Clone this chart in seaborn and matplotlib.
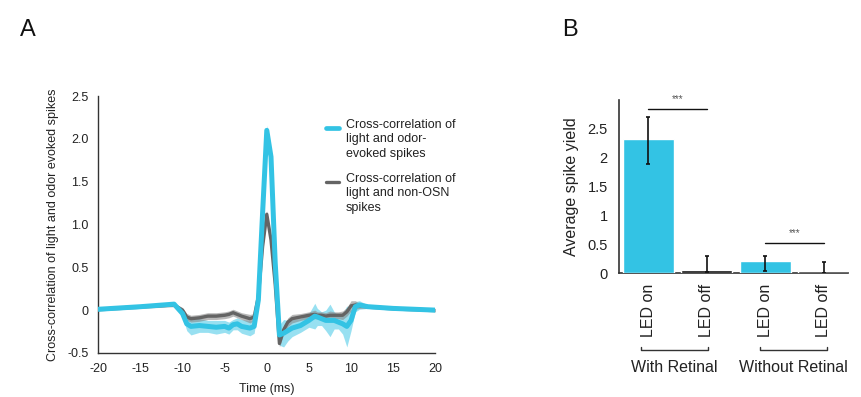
import numpy as np
import pandas as pd
import matplotlib
matplotlib.use("Agg")
import matplotlib.pyplot as plt
import matplotlib.transforms as mtrans
import seaborn as sns
from matplotlib.lines import Line2D

sns.set_theme(style="white")
plt.rcParams['font.family'] = ['Liberation Sans', 'DejaVu Sans']
plt.rcParams['axes.unicode_minus'] = False

# ---------------- data: panel A ----------------
time_ms = [-20, -15, -11, -10, -9.5, -9, -8, -7, -6, -5,
           -4.5, -4, -3.5, -3, -2, -1.5, -1, -0.5, 0, 0.5,
           1, 1.5, 2, 2.5, 3, 4, 5, 5.7, 6, 6.5,
           7, 7.5, 8, 8.5, 9, 9.5, 10, 10.5, 11, 12,
           15, 20]
odor_xcorr = [0.01, 0.04, 0.07, -0.04, -0.16, -0.19, -0.18, -0.19, -0.20, -0.19,
              -0.21, -0.17, -0.16, -0.19, -0.21, -0.19, 0.12, 1.13, 2.10, 1.79,
              0.55, -0.29, -0.27, -0.24, -0.21, -0.18, -0.12, -0.07, -0.08, -0.10,
              -0.12, -0.12, -0.12, -0.14, -0.16, -0.19, -0.12, 0.04, 0.06, 0.04,
              0.02, 0.00]
odor_sem = [0.02, 0.02, 0.02, 0.04, 0.08, 0.10, 0.08, 0.07, 0.08, 0.07,
            0.07, 0.06, 0.07, 0.08, 0.09, 0.08, 0.06, 0.05, 0.06, 0.05,
            0.05, 0.12, 0.16, 0.12, 0.10, 0.08, 0.08, 0.15, 0.10, 0.08,
            0.12, 0.19, 0.10, 0.08, 0.12, 0.24, 0.12, 0.06, 0.05, 0.02,
            0.02, 0.02]
nonosn_xcorr = [0.01, 0.04, 0.06, 0.00, -0.08, -0.10, -0.09, -0.07, -0.07, -0.06,
                -0.05, -0.03, -0.05, -0.07, -0.10, -0.08, 0.16, 0.74, 1.12, 0.82,
                0.30, -0.39, -0.23, -0.14, -0.10, -0.08, -0.06, -0.05, -0.06, -0.06,
                -0.07, -0.06, -0.06, -0.06, -0.06, -0.02, 0.05, 0.06, 0.05, 0.04,
                0.02, 0.00]
nonosn_sem = [0.02, 0.02, 0.02, 0.03, 0.04, 0.04, 0.04, 0.04, 0.04, 0.04,
              0.04, 0.04, 0.04, 0.04, 0.05, 0.04, 0.04, 0.04, 0.04, 0.04,
              0.04, 0.04, 0.05, 0.05, 0.05, 0.04, 0.04, 0.05, 0.04, 0.04,
              0.04, 0.05, 0.04, 0.04, 0.05, 0.05, 0.06, 0.05, 0.03, 0.02,
              0.02, 0.02]
legend_labels = ["Cross-correlation of\nlight and odor-\nevoked spikes",
                 "Cross-correlation of\nlight and non-OSN\nspikes"]

# ---------------- data: panel B ----------------
bar_labels = ["LED on", "LED off", "LED on", "LED off"]
bar_groups = ["With Retinal", "With Retinal", "Without Retinal", "Without Retinal"]
spike_yield = [2.33, 0.06, 0.21, 0.04]
yield_lo = [1.90, 0.02, 0.03, 0.00]
yield_hi = [2.70, 0.30, 0.30, 0.20]

CYAN = "#33C3E4"
GRAY = "#646464"
DARK = "#111111"
TXT = "#222222"

fig = plt.figure(figsize=(8.62, 3.97), dpi=100)
axA = fig.add_axes([0.114, 0.111, 0.391, 0.647])
axB = fig.add_axes([0.718, 0.312, 0.266, 0.436])

# ---------- Panel A ----------
t = np.array(time_ms)
oc = np.array(odor_xcorr); os_ = np.array(odor_sem)
nc = np.array(nonosn_xcorr); ns_ = np.array(nonosn_sem)
dfA = pd.DataFrame({"t": t, "odor": oc, "non": nc})

axA.fill_between(t, oc - os_, oc + os_, color=CYAN, alpha=0.5, lw=0, zorder=1)
axA.fill_between(t, nc - ns_, nc + ns_, color="#8a8a8a", alpha=0.6, lw=0, zorder=2)
sns.lineplot(data=dfA, x="t", y="non", ax=axA, color=GRAY, lw=2.4, zorder=3)
sns.lineplot(data=dfA, x="t", y="odor", ax=axA, color=CYAN, lw=3.6, zorder=4)

axA.set_xlim(-20, 20)
axA.set_ylim(-0.5, 2.5)
axA.set_xticks(range(-20, 21, 5))
axA.set_yticks([-0.5, 0, 0.5, 1.0, 1.5, 2.0, 2.5])
axA.set_yticklabels(["-0.5", "0", "0.5", "1.0", "1.5", "2.0", "2.5"])
axA.set_xlabel("Time (ms)", fontsize=9, color=TXT, labelpad=6)
axA.set_ylabel("Cross-correlation of light and odor evoked spikes", fontsize=9,
               color=TXT, labelpad=6)
for s in ["top", "right"]:
    axA.spines[s].set_visible(False)
for s in ["left", "bottom"]:
    axA.spines[s].set_color("#333333")
    axA.spines[s].set_linewidth(1.0)
axA.tick_params(direction="in", length=4, width=1, colors="#333333",
                labelsize=9, labelcolor=TXT, pad=7)

# manual legend (handles aligned to the first text line)
leg_items = [(CYAN, 3.4, legend_labels[0], 0.875), (GRAY, 2.4, legend_labels[1], 0.665)]
for col, lw, lab, yy in leg_items:
    axA.add_line(Line2D([0.675, 0.715], [yy, yy], transform=axA.transAxes,
                        color=col, lw=lw, clip_on=False))
    axA.text(0.735, yy + 0.035, lab, transform=axA.transAxes, fontsize=9,
             color=TXT, va="top", ha="left", linespacing=1.25)

# ---------- Panel B ----------
dfB = pd.DataFrame({"key": [g + " " + b for g, b in zip(bar_groups, bar_labels)],
                    "yield": spike_yield})
colors = [CYAN if b == "LED on" else DARK for b in bar_labels]
sns.barplot(data=dfB, x="key", y="yield", hue="key", palette=colors, legend=False,
            width=0.87, ax=axB, errorbar=None, saturation=1, zorder=3)
pos = np.arange(len(spike_yield))
axB.vlines(pos, yield_lo, yield_hi, color="#111111", lw=1.2, zorder=4)
axB.hlines(yield_lo, pos - 0.035, pos + 0.035, color="#111111", lw=1.2, zorder=4)
axB.hlines(yield_hi, pos - 0.035, pos + 0.035, color="#111111", lw=1.2, zorder=4)

axB.set_xlim(-0.5, 3.42)
axB.set_ylim(0, 3.0)
axB.set_yticks([0, 0.5, 1, 1.5, 2, 2.5, 3])
axB.set_yticklabels(["0", "0.5", "1", "1.5", "2", "2.5", ""])
axB.set_xticks(pos)
axB.set_xticklabels(bar_labels, rotation=90, fontsize=11.5, color=TXT)
axB.set_xlabel("")
axB.set_ylabel("Average spike yield", fontsize=11.5, color=TXT, labelpad=6)
for s in ["top", "right"]:
    axB.spines[s].set_visible(False)
for s in ["left", "bottom"]:
    axB.spines[s].set_color("#333333")
    axB.spines[s].set_linewidth(1.2)
axB.tick_params(axis="y", direction="in", length=4, width=1, colors="#333333",
                labelsize=10.5, labelcolor=TXT, pad=8)
axB.tick_params(axis="x", length=0, pad=8)

# significance markers
sig_pairs = [(0, 1, 2.85), (2, 3, 0.53)]
for a, b, yy in sig_pairs:
    axB.plot([a, b], [yy, yy], color="#111111", lw=1.0, clip_on=False)
    axB.text((a + b) / 2, yy + 0.08, "***", ha="center", va="bottom",
             fontsize=7, color="#555555", clip_on=False)

# group brackets
trans = mtrans.blended_transform_factory(axB.transData, axB.transAxes)
group_spans = [(-0.12, 1.02, "With Retinal"), (1.91, 3.05, "Without Retinal")]
for x0, x1, name in group_spans:
    axB.add_line(Line2D([x0, x0, x1, x1], [-0.425, -0.445, -0.445, -0.425],
                        transform=trans, color="#333333", lw=1.0, clip_on=False))
    axB.text((x0 + x1) / 2, -0.50, name, transform=trans, ha="center", va="top",
             fontsize=11.5, color=TXT)

fig.text(0.023, 0.925, "A", fontsize=17, color="#111111", ha="left", va="center")
fig.text(0.652, 0.925, "B", fontsize=17, color="#111111", ha="left", va="center")

fig.savefig("out.png", dpi=100)
